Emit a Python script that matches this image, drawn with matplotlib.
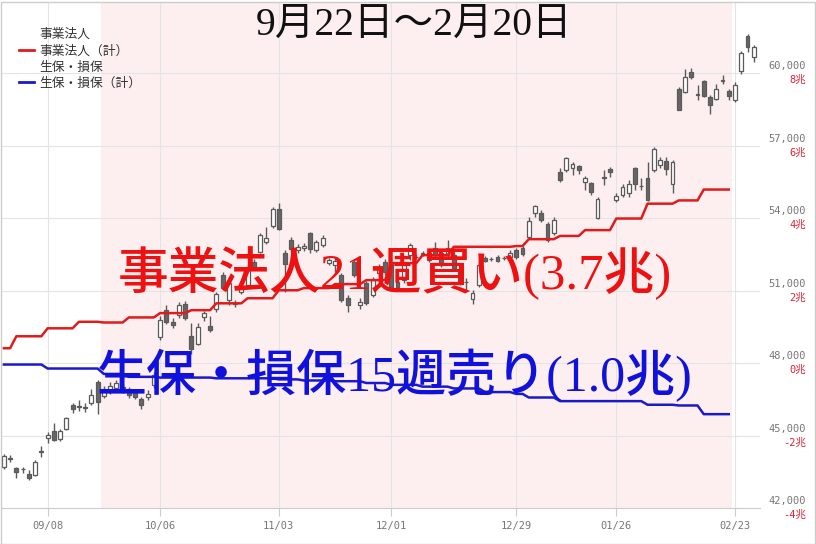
import numpy as np
import pandas as pd
import matplotlib
matplotlib.use("Agg")
import matplotlib.pyplot as plt
from matplotlib.lines import Line2D
from matplotlib.patches import Rectangle
from matplotlib.transforms import offset_copy

plt.rcParams['font.family'] = ['DejaVu Sans', 'Noto Sans CJK JP']

# trading days, Tokyo holidays removed
holidays = ['2025-09-15', '2025-09-23', '2025-10-13', '2025-11-03', '2025-11-24',
            '2025-12-31', '2026-01-01', '2026-01-02', '2026-01-12', '2026-02-11',
            '2026-02-23']
dates = pd.bdate_range('2025-08-28', '2026-02-27')
dates = dates[~dates.isin(pd.to_datetime(holidays))]

# daily candles
opens = [43697, 44048, 43655, 43626, 43407, 43366, 44317, 44897, 45199, 44843,
         45257, 46262, 46204, 46179, 46333, 47226, 46635, 46813, 46978, 47019,
         46924, 46813, 46510, 46581, 47090, 49088, 50193, 49709, 49986, 50442,
         49117, 48786, 49916, 49531, 50222, 51642, 50607, 50483, 50951, 51228,
         52192, 52606, 53020, 53669, 54360, 52540, 53090, 52676, 52746, 53367,
         52676, 52883, 52126, 52055, 51642, 50677, 52192, 50400, 51298, 50814,
         51712, 52180, 52138, 51364, 51435, 52469, 52407, 52527, 52262, 52746,
         52540, 52469, 52469, 51848, 51377, 50636, 51228, 52357, 52316, 52399,
         52357, 52374, 52676, 52759, 53226, 54195, 54220, 53740, 53367, 55916,
         55986, 56057, 56152, 55478, 55436, 54013, 55643, 56028, 54745, 54952,
         55022, 56082, 55349, 55668, 55986, 56193, 56359, 55395, 59367, 59227,
         60054, 59144, 59681, 59020, 58953, 59698, 59268, 58883, 60112, 61560,
         60675]
highs = [44235, 44193, 43697, 43697, 43572, 43986, 44566, 45145, 45530, 45269,
         45778, 46345, 46469, 46345, 46924, 47297, 47048, 47214, 47297, 47131,
         47007, 46924, 46606, 46883, 47628, 49945, 50400, 49862, 50524, 50566,
         49668, 49668, 50164, 49945, 50951, 51778, 51435, 50607, 51228, 52097,
         52304, 53392, 53628, 54455, 54609, 52676, 53202, 52924, 52966, 53433,
         53090, 53297, 52345, 52333, 51724, 50814, 52304, 50677, 51393, 51559,
         52097, 52304, 52221, 51476, 52180, 52953, 52511, 52635, 52676, 53020,
         52635, 53090, 52593, 51931, 51505, 51021, 52180, 52428, 52386, 52469,
         52428, 52676, 52759, 52842, 54054, 54538, 54331, 53847, 54042, 56069,
         56537, 56318, 56193, 55751, 55502, 54869, 55986, 56123, 55035, 55407,
         55573, 56123, 55643, 56330, 56951, 56524, 56537, 56400, 59433, 60195,
         60220, 59533, 59711, 59090, 59574, 59918, 59338, 59628, 60911, 61643,
         61159]
lows = [43614, 43903, 43241, 43448, 43159, 43324, 44110, 44690, 44785, 44772,
        45228, 45944, 46026, 45985, 46262, 45890, 46552, 46717, 46883, 46759,
        46552, 46510, 46084, 46469, 46966, 48952, 49614, 49448, 49862, 49779,
        48373, 48745, 49751, 49295, 50123, 51021, 50400, 50330, 50855, 51104,
        51848, 52540, 52924, 53586, 53504, 50951, 52606, 52552, 52635, 52540,
        52593, 52800, 52055, 51778, 50524, 50123, 51559, 50222, 50400, 50731,
        51600, 51642, 51062, 51021, 51311, 52262, 52304, 52428, 52180, 52386,
        51973, 52386, 51848, 51228, 51021, 50442, 51145, 52180, 52221, 52180,
        52262, 52304, 52304, 52428, 53160, 54054, 53835, 53020, 53297, 55490,
        55916, 55780, 55809, 55159, 54952, 53959, 55366, 55709, 54662, 54869,
        54882, 55159, 55159, 54716, 55916, 56069, 55780, 55022, 58469, 59173,
        59781, 58883, 59020, 58333, 58883, 59574, 58912, 58813, 59988, 60869,
        60468]
closes = [44152, 44090, 43490, 43601, 43241, 43903, 44342, 45021, 44814, 45186,
          45724, 46084, 46179, 46155, 46688, 46374, 46924, 47048, 47173, 46813,
          46676, 46606, 46262, 46717, 47504, 49779, 49709, 49573, 50400, 49850,
          48567, 49502, 50082, 49366, 50855, 51091, 51311, 50458, 51104, 51973,
          51960, 53297, 53185, 54360, 53533, 52097, 52705, 52813, 52842, 52705,
          52995, 53185, 52262, 52233, 50607, 50400, 51642, 50537, 50470, 51435,
          51985, 51766, 51157, 51133, 52055, 52883, 52386, 52552, 52552, 52469,
          52055, 52746, 51931, 51298, 51352, 50884, 52055, 52233, 52291, 52233,
          52333, 52564, 52374, 52511, 53876, 54497, 53917, 53090, 53917, 55573,
          56471, 56222, 55986, 55668, 55064, 54786, 55709, 55916, 54923, 55295,
          55395, 55395, 55324, 54745, 56855, 56400, 56028, 56330, 58498, 59847,
          59847, 59119, 59049, 58676, 59367, 59723, 59049, 59504, 60857, 61076,
          61105]

# weekly cumulative net buying (trillion yen), weeks from 08/25 to 02/16
corp_cum = [0.41, 0.74, 0.96, 1.14, 1.12, 1.26, 1.38, 1.46, 1.65, 1.79,
            2.01, 2.07, 2.18, 2.29, 2.76, 2.98, 3.21, 3.21, 3.23, 3.42,
            3.51, 3.67, 3.99, 4.40, 4.49, 4.79]
ins_cum = [-0.04, -0.04, -0.15, -0.15, -0.30, -0.38, -0.40, -0.40, -0.42, -0.42,
           -0.45, -0.48, -0.50, -0.55, -0.60, -0.65, -0.70, -0.80, -0.85, -0.95,
           -1.05, -1.05, -1.05, -1.15, -1.17, -1.41]

tick_dates = ['2025-09-08', '2025-10-06', '2025-11-03', '2025-12-01',
              '2025-12-29', '2026-01-26', '2026-02-23']
tick_labels = ['09/08', '10/06', '11/03', '12/01', '12/29', '01/26', '02/23']
price_ticks = [42000, 45000, 48000, 51000, 54000, 57000, 60000]

x = np.arange(len(dates))
o = np.array(opens, float)
h = np.array(highs, float)
l = np.array(lows, float)
c = np.array(closes, float)

week = np.asarray((dates - pd.Timestamp('2025-08-25')).days // 7)
corp = np.full(len(x), np.nan)
ins = np.full(len(x), np.nan)
ok = week < len(corp_cum)
corp[ok] = np.array(corp_cum)[week[ok]]
ins[ok] = np.array(ins_cum)[week[ok]]

fig = plt.figure(figsize=(8.16, 5.44), dpi=100)
ax = fig.add_axes([2 / 816, 36 / 544, 758 / 816, 506 / 544])

ax.axvspan(15.5, 116.5, color='#fdeff0', lw=0, zorder=0)

for p in price_ticks:
    ax.axhline(p, color='#e4e4e4', lw=0.8, zorder=1)
tick_pos = np.searchsorted(dates.values, pd.to_datetime(tick_dates).values)
for t in tick_pos:
    ax.axvline(t, color='#e4e4e4', lw=0.8, zorder=1)

up = c >= o
body_lo = np.minimum(o, c)
body_h = np.maximum(np.abs(c - o), 25)
ax.vlines(x, l, h, color='#5a5a5a', lw=1, zorder=3)
ax.bar(x, body_h, bottom=body_lo, width=0.62,
       color=np.where(up, 'white', '#666666'), edgecolor='#5a5a5a',
       lw=0.9, zorder=4)

ax.set_xlim(-0.3, 121)
ax.set_ylim(42000, 62950)
ax.set_xticks(tick_pos)
ax.set_xticklabels(tick_labels, family='DejaVu Sans Mono', fontsize=7.5,
                   color='#777777')
ax.tick_params(axis='x', length=6, color='#cccccc', pad=3)
ax.set_yticks([])
for s in ['top', 'right', 'left']:
    ax.spines[s].set_visible(False)
ax.spines['bottom'].set_color('#cccccc')

ax2 = ax.twinx()
ax2.set_ylim((42000 - 48000) / 1500, (62950 - 48000) / 1500)
ax2.plot(x, corp, color='#e01b1b', lw=1.8, zorder=5)
ax2.plot(x, ins, color='#1a1acc', lw=1.8, zorder=5)
ax2.set_yticks([])
for s in ax2.spines.values():
    s.set_visible(False)

# right-hand labels: price above the grid line, trillion yen below
ytrans = ax.get_yaxis_transform()
for p in price_ticks:
    ax.text(1.0607, p, f'{p:,}', transform=offset_copy(ytrans, fig=fig, y=5, units='points'),
            ha='right', va='center', fontsize=7.5, color='#777777',
            family='DejaVu Sans Mono', clip_on=False)
    ax.text(1.0607, p, f'{(p - 48000) // 1500}兆',
            transform=offset_copy(ytrans, fig=fig, y=-5, units='points'),
            ha='right', va='center', fontsize=7.5, color='#dd2233',
            family=['DejaVu Sans Mono', 'Noto Sans CJK JP'], clip_on=False)

handles = [Line2D([], [], color='none'),
           Line2D([], [], color='#e01b1b', lw=2),
           Line2D([], [], color='none'),
           Line2D([], [], color='#1a1acc', lw=2)]
labels = ['事業法人', '事業法人（計）', '生保・損保', '生保・損保（計）']
leg = fig.legend(handles, labels, loc='upper left', bbox_to_anchor=(19 / 816, 1 - 28 / 544),
                 frameon=False, handlelength=1.2, handletextpad=0.4,
                 labelspacing=0.26, borderaxespad=0, borderpad=0,
                 prop={'family': 'Noto Sans CJK JP', 'size': 9.2})
for t in leg.get_texts():
    t.set_color('#333333')

fig.text(414 / 816, 1 - 25 / 544, '9月22日～2月20日', ha='center', va='center',
         fontsize=28.5, family=['Liberation Serif', 'Noto Sans CJK JP'], color='#111111')
fig.text(395 / 816, 1 - 273 / 544, '事業法人21週買い(3.7兆)', ha='center', va='center',
         fontsize=36.5, family=['Liberation Serif', 'Noto Sans CJK JP'],
         color='#ee1111', weight='medium')
fig.text(395 / 816, 1 - 376 / 544, '生保・損保15週売り(1.0兆)', ha='center', va='center',
         fontsize=36, family=['Liberation Serif', 'Noto Sans CJK JP'],
         color='#1111dd', weight='medium')

fig.patches.append(Rectangle((0.5 / 816, 0.5 / 544), 814 / 816, 542 / 544,
                             transform=fig.transFigure, fill=False,
                             edgecolor='#cccccc', lw=1))

fig.savefig('out.png', dpi=100)
